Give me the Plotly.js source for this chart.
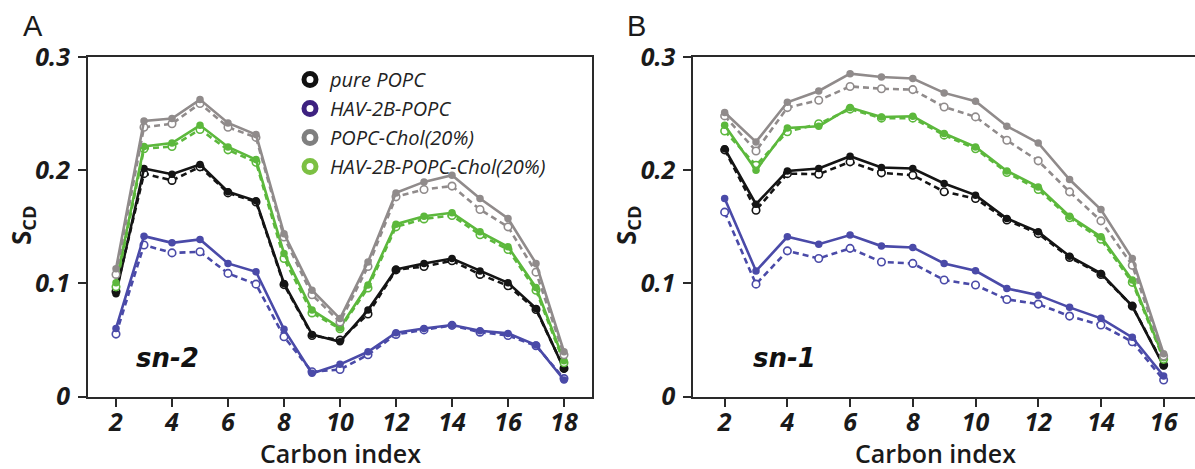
<!DOCTYPE html>
<html>
<head>
<meta charset="utf-8">
<script src="https://cdn.plot.ly/plotly-3.0.1.min.js"></script>
<style>html,body{margin:0;padding:0;background:#fff;}#chart{width:1195px;height:469px;}</style>
</head>
<body>
<div id="chart"></div>
<script>
// ---- Data ----
var carbonsA = [2,3,4,5,6,7,8,9,10,11,12,13,14,15,16,17,18];
var carbonsB = [2,3,4,5,6,7,8,9,10,11,12,13,14,15,16];
var seriesNames = ["pure POPC", "HAV-2B-POPC", "POPC-Chol(20%)", "HAV-2B-POPC-Chol(20%)"];

// sn-2 (panel A)
var A_popc       = [0.091,0.2015,0.1965,0.205,0.181,0.173,0.100,0.055,0.0485,0.0765,0.1124,0.1177,0.122,0.111,0.1006,0.078,0.0245];
var A_popc_d     = [0.093,0.197,0.191,0.203,0.180,0.172,0.099,0.054,0.050,0.073,0.112,0.115,0.120,0.108,0.098,0.077,0.025];
var A_hav        = [0.0603,0.1418,0.1359,0.1389,0.1177,0.1103,0.0595,0.0206,0.0286,0.0397,0.0565,0.0603,0.0633,0.0582,0.0559,0.0456,0.0147];
var A_hav_d      = [0.0553,0.134,0.127,0.128,0.1089,0.0994,0.0529,0.022,0.024,0.037,0.055,0.059,0.063,0.057,0.054,0.045,0.016];
var A_chol       = [0.113,0.2435,0.2456,0.2624,0.2418,0.2315,0.144,0.0941,0.069,0.119,0.180,0.1897,0.1956,0.175,0.1574,0.1177,0.0397];
var A_chol_d     = [0.108,0.238,0.241,0.259,0.238,0.229,0.141,0.090,0.066,0.115,0.1765,0.183,0.186,0.1653,0.150,0.110,0.037];
var A_havchol    = [0.1006,0.221,0.224,0.2397,0.2206,0.2094,0.1265,0.0765,0.0609,0.0986,0.1524,0.1594,0.1624,0.1456,0.1324,0.0965,0.0318];
var A_havchol_d  = [0.097,0.219,0.221,0.236,0.218,0.207,0.122,0.074,0.060,0.096,0.150,0.157,0.160,0.143,0.130,0.094,0.030];

// sn-1 (panel B)
var B_popc       = [0.219,0.170,0.1994,0.2015,0.2124,0.2024,0.2015,0.1883,0.178,0.1574,0.1456,0.1241,0.1089,0.080,0.0271];
var B_popc_d     = [0.218,0.1647,0.197,0.1965,0.2074,0.1977,0.1956,0.181,0.175,0.156,0.144,0.123,0.108,0.080,0.028];
var B_hav        = [0.175,0.111,0.1412,0.1347,0.1427,0.133,0.1318,0.1177,0.1112,0.0956,0.0897,0.0789,0.0692,0.0524,0.0183];
var B_hav_d      = [0.163,0.0994,0.1288,0.1221,0.131,0.119,0.1177,0.103,0.0986,0.0859,0.0818,0.0712,0.0633,0.0485,0.0147];
var B_chol       = [0.251,0.225,0.260,0.270,0.2853,0.2824,0.281,0.2683,0.261,0.2389,0.2241,0.1918,0.1653,0.122,0.038];
var B_chol_d     = [0.248,0.217,0.2553,0.2618,0.274,0.272,0.2712,0.2559,0.2471,0.2265,0.2083,0.1809,0.1553,0.116,0.036];
var B_havchol    = [0.2397,0.200,0.2373,0.2388,0.2553,0.247,0.2477,0.2324,0.2206,0.1994,0.1853,0.1594,0.1412,0.103,0.0344];
var B_havchol_d  = [0.2347,0.2044,0.234,0.241,0.254,0.246,0.246,0.231,0.219,0.198,0.183,0.158,0.139,0.101,0.033];

var xTicksA = [2,4,6,8,10,12,14,16,18];
var xTicksB = [2,4,6,8,10,12,14,16];
var yTicks = [0, 0.1, 0.2, 0.3];
var yTickText = ["0", "0.1", "0.2", "0.3"];

// ---- Styles ----
var lineColors = ["#141414", "#4a4aa8", "#908b8b", "#5cb83c"];
var legendColors = ["#111111", "#3d2180", "#7f7f7f", "#7cc043"];

function solid(x, y, c, xa, ya) {
  return {x: x, y: y, xaxis: xa, yaxis: ya, type: "scatter", mode: "lines+markers",
    line: {color: c, width: 2.6}, marker: {color: c, size: 7.5, symbol: "circle"},
    showlegend: false, hoverinfo: "skip"};
}
function dashed(x, y, c, xa, ya) {
  return {x: x, y: y, xaxis: xa, yaxis: ya, type: "scatter", mode: "lines+markers",
    line: {color: c, width: 2.6, dash: "6px,4px"},
    marker: {color: "#ffffff", size: 7.5, symbol: "circle", line: {color: c, width: 1.6}},
    showlegend: false, hoverinfo: "skip"};
}

var Aset = [[A_hav, A_hav_d], [A_popc, A_popc_d], [A_havchol, A_havchol_d], [A_chol, A_chol_d]];
var Bset = [[B_hav, B_hav_d], [B_popc, B_popc_d], [B_havchol, B_havchol_d], [B_chol, B_chol_d]];
var colIdx = [1, 0, 3, 2];

var traces = [];
for (var i = 0; i < 4; i++) {
  var c = lineColors[colIdx[i]];
  traces.push(dashed(carbonsA, Aset[i][1], c, "x", "y"));
  traces.push(solid(carbonsA, Aset[i][0], c, "x", "y"));
  traces.push(dashed(carbonsB, Bset[i][1], c, "x2", "y2"));
  traces.push(solid(carbonsB, Bset[i][0], c, "x2", "y2"));
}
// legend entries
for (var k = 0; k < 4; k++) {
  traces.push({x: [null], y: [null], xaxis: "x", yaxis: "y", type: "scatter", mode: "markers",
    name: seriesNames[k], legendgroup: "g" + k,
    marker: {symbol: "circle-open", size: 12, color: legendColors[k], line: {color: legendColors[k], width: 5}}});
}

var tickFont = {family: "Open Sans, sans-serif", size: 25, color: "#1a1a1a", style: "italic", weight: 700};
var axisLine = "#2a2a2a";

function xAxis(domain, range, ticks, anchor) {
  return {domain: domain, range: range, tickvals: ticks, ticktext: ticks.map(String),
    showgrid: false, zeroline: false, showline: true, mirror: true, linecolor: axisLine, linewidth: 2,
    ticks: "outside", ticklen: 8, tickwidth: 2, tickcolor: axisLine, tickfont: tickFont,
    anchor: anchor, fixedrange: true, ticklabelstandoff: -6};
}
function yAxis(domain, anchor, mirror) {
  return {domain: domain, range: [0, 0.3], tickvals: yTicks, ticktext: yTickText,
    showgrid: false, zeroline: false, showline: true, mirror: mirror, linecolor: axisLine, linewidth: 2,
    ticks: "outside", ticklen: 8, tickwidth: 2, tickcolor: axisLine, tickfont: tickFont,
    anchor: anchor, fixedrange: true, ticklabelstandoff: 3};
}

var W = 1195, H = 469;
var yDom = [(H - 396.7) / H, (H - 57) / H];

var titleFont = {family: "Open Sans, sans-serif", size: 25, color: "#1a1a1a", weight: 600};
var labelFont = {family: "Liberation Sans, Arial, sans-serif", size: 29, color: "#1a1a1a"};
var snFont = {family: "DejaVu Sans, sans-serif", size: 26, color: "#111", style: "italic", weight: 700};
var scdFont = {family: "Open Sans, sans-serif", size: 26, color: "#1a1a1a", weight: 700};

var layout = {
  width: W, height: H,
  margin: {l: 0, r: 0, t: 0, b: 0},
  paper_bgcolor: "#ffffff", plot_bgcolor: "rgba(0,0,0,0)",
  xaxis: xAxis([88 / W, 592 / W], [1, 19], xTicksA, "y"),
  yaxis: yAxis(yDom, "x", true),
  xaxis2: xAxis([693.3 / W, 1], [1, 17], xTicksB, "y2"),
  yaxis2: yAxis(yDom, "x2", false),
  showlegend: true,
  legend: {x: 290 / W, y: (H - 60) / H, xanchor: "left", yanchor: "top",
    bgcolor: "rgba(0,0,0,0)", tracegroupgap: 0,
    font: {family: "Open Sans, sans-serif", size: 20, color: "#222", style: "italic"}},
  annotations: [
    {text: "A", xref: "paper", yref: "paper", x: 33 / W, y: (H - 26) / H, xanchor: "center", yanchor: "middle", showarrow: false, font: labelFont},
    {text: "B", xref: "paper", yref: "paper", x: 636 / W, y: (H - 26) / H, xanchor: "center", yanchor: "middle", showarrow: false, font: labelFont},
    {text: "sn-2", xref: "paper", yref: "paper", x: 167 / W, y: (H - 358) / H, xanchor: "center", yanchor: "middle", showarrow: false, font: snFont},
    {text: "sn-1", xref: "paper", yref: "paper", x: 784 / W, y: (H - 358) / H, xanchor: "center", yanchor: "middle", showarrow: false, font: snFont},
    {text: "S<sub>CD</sub>", xref: "paper", yref: "paper", x: 22 / W, y: (H - 226) / H, xanchor: "center", yanchor: "middle", textangle: -90, showarrow: false, font: scdFont},
    {text: "S<sub>CD</sub>", xref: "paper", yref: "paper", x: 627 / W, y: (H - 226) / H, xanchor: "center", yanchor: "middle", textangle: -90, showarrow: false, font: scdFont},
    {text: "Carbon index", xref: "paper", yref: "paper", x: 340 / W, y: (H - 453) / H, xanchor: "center", yanchor: "middle", showarrow: false, font: titleFont},
    {text: "Carbon index", xref: "paper", yref: "paper", x: 935 / W, y: (H - 453) / H, xanchor: "center", yanchor: "middle", showarrow: false, font: titleFont}
  ]
};

Plotly.newPlot("chart", traces, layout, {staticPlot: true, displayModeBar: false});
</script>
</body>
</html>
